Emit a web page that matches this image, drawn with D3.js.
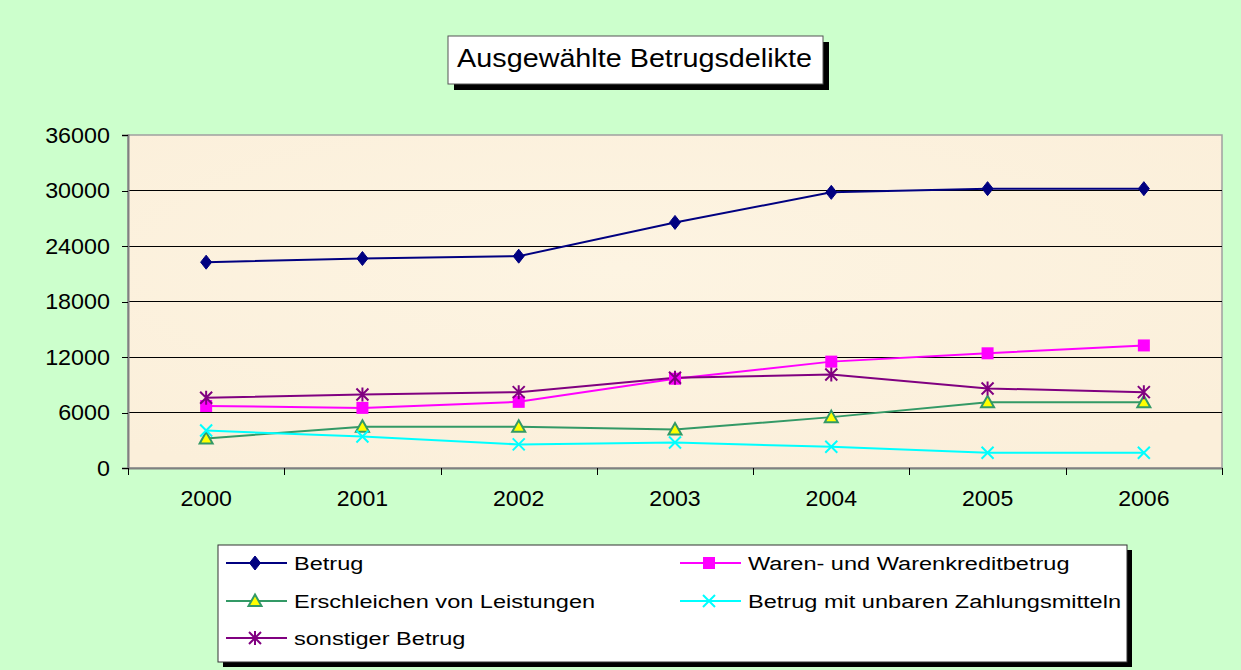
<!DOCTYPE html>
<html>
<head>
<meta charset="utf-8">
<script src="https://cdn.jsdelivr.net/npm/d3@7"></script>
<style>
  body { margin: 0; background: #ccffcc; }
  text { font-family: "Liberation Sans", Arial, sans-serif; fill: #000; }
</style>
</head>
<body>
<div id="chart"></div>
<script>
const years = ["2000", "2001", "2002", "2003", "2004", "2005", "2006"];
const yTicks = [0, 6000, 12000, 18000, 24000, 30000, 36000];

const betrug = [22250, 22650, 22900, 26550, 29800, 30200, 30200];
const waren = [6700, 6500, 7150, 9650, 11500, 12400, 13250];
const erschleichen = [3200, 4450, 4450, 4150, 5500, 7100, 7100];
const unbar = [4050, 3400, 2550, 2750, 2300, 1650, 1650];
const sonstiger = [7600, 7950, 8200, 9750, 10100, 8600, 8200];

const seriesNames = ["Betrug", "Waren- und Warenkreditbetrug", "Erschleichen von Leistungen",
  "Betrug mit unbaren Zahlungsmitteln", "sonstiger Betrug"];

const width = 1241;
const height = 670;
const plotLeft = 128, plotRight = 1222, plotTop = 135, plotBottom = 468;

const series = [
  { name: seriesNames[0], values: betrug, color: "#000080", marker: "diamond" },
  { name: seriesNames[1], values: waren, color: "#ff00ff", marker: "square" },
  { name: seriesNames[2], values: erschleichen, color: "#339966", marker: "triangle" },
  { name: seriesNames[3], values: unbar, color: "#00ffff", marker: "cross" },
  { name: seriesNames[4], values: sonstiger, color: "#800080", marker: "star" }
];

const svg = d3.select('#chart')
  .append('svg')
  .attr('width', width)
  .attr('height', height)

const defs = svg.append('defs');
const grad = defs.append('radialGradient').attr('id', 'parch')
  .attr('cx', '45%').attr('cy', '40%').attr('r', '70%');
grad.append('stop').attr('offset', '0%').attr('stop-color', '#fdf4e2');
grad.append('stop').attr('offset', '100%').attr('stop-color', '#fbefda');

// plot area
svg.append('rect')
  .attr('x', plotLeft).attr('y', plotTop)
  .attr('width', plotRight - plotLeft).attr('height', plotBottom - plotTop)
  .attr('fill', 'url(#parch)')
  .attr('stroke', '#a0a0a0')
  .attr('stroke-width', 1.5)

const x = d3.scaleBand().domain(years).range([plotLeft, plotRight]).padding(0);
const xEdge = d3.scaleLinear().domain([0, years.length]).range([plotLeft, plotRight]);
const y = d3.scaleLinear().domain([0, 36000]).range([plotBottom, plotTop]);

// gridlines
svg.append('g')
  .selectAll('line')
  .data(yTicks.filter(d => d > 0 && d < 36000))
  .join('line')
  .attr('x1', plotLeft).attr('x2', plotRight)
  .attr('y1', d => y(d)).attr('y2', d => y(d))
  .attr('stroke', '#000').attr('stroke-width', 1)
  .attr('shape-rendering', 'crispEdges')

const yAxis = d3.axisLeft(y).tickValues(yTicks).tickFormat(d3.format("d")).tickSize(6).tickPadding(11);
const gy = svg.append('g')
  .attr('transform', `translate(${plotLeft}, 0)`)
  .call(yAxis)
gy.select('.domain').attr('stroke', '#808080').attr('stroke-width', 2)
gy.selectAll('.tick line').attr('stroke', '#000').attr('shape-rendering', 'crispEdges')
gy.selectAll('text').style('font-size', '22px').attr('font-family', null)
  .attr('transform', 'scale(1.06,1)')

const xTickAxis = d3.axisBottom(xEdge).tickValues(d3.range(years.length + 1)).tickFormat("").tickSize(7).tickSizeOuter(0);
const gxt = svg.append('g')
  .attr('transform', `translate(0, ${plotBottom})`)
  .call(xTickAxis)
gxt.select('.domain').attr('stroke', '#808080').attr('stroke-width', 2)
gxt.selectAll('.tick line').attr('stroke', '#000').attr('shape-rendering', 'crispEdges')

const xAxis = d3.axisBottom(x).tickSize(0).tickPadding(22);
const gx = svg.append('g')
  .attr('transform', `translate(0, ${plotBottom})`)
  .call(xAxis)
gx.select('.domain').remove()
gx.selectAll('text').style('font-size', '22px').attr('font-family', null)
  .attr('transform', 'scale(1.05,1)')

function drawMarker(g, type, color, cx, cy) {
  if (type === "diamond") {
    g.append('path').attr('d', `M${cx},${cy - 7}L${cx + 5.5},${cy}L${cx},${cy + 7}L${cx - 5.5},${cy}Z`)
      .attr('fill', color).attr('stroke', color).attr('stroke-width', 1)
  } else if (type === "square") {
    g.append('rect').attr('x', cx - 6).attr('y', cy - 6).attr('width', 12).attr('height', 12)
      .attr('fill', color)
  } else if (type === "triangle") {
    g.append('path').attr('d', `M${cx},${cy - 6.5}L${cx + 6.5},${cy + 5}L${cx - 6.5},${cy + 5}Z`)
      .attr('fill', '#ffff00').attr('stroke', color).attr('stroke-width', 2)
  } else if (type === "cross") {
    g.append('path').attr('d', `M${cx - 6},${cy - 6}L${cx + 6},${cy + 6}M${cx - 6},${cy + 6}L${cx + 6},${cy - 6}`)
      .attr('stroke', color).attr('stroke-width', 2)
  } else if (type === "star") {
    g.append('path').attr('d', `M${cx - 6},${cy - 6}L${cx + 6},${cy + 6}M${cx - 6},${cy + 6}L${cx + 6},${cy - 6}M${cx},${cy - 7}L${cx},${cy + 7}`)
      .attr('stroke', color).attr('stroke-width', 2)
  }
}

const line = d3.line()
  .x((d, i) => x(years[i]) + x.bandwidth() / 2)
  .y(d => y(d))

const plot = svg.append('g');
series.forEach(s => {
  plot.append('path')
    .datum(s.values)
    .attr('d', line)
    .attr('fill', 'none')
    .attr('stroke', s.color)
    .attr('stroke-width', 2)
});
series.forEach(s => {
  const g = plot.append('g');
  s.values.forEach((v, i) => drawMarker(g, s.marker, s.color, x(years[i]) + x.bandwidth() / 2, y(v)));
});

// title
const tX = 448, tY = 36, tW = 375, tH = 48;
svg.append('rect').attr('x', tX + 6).attr('y', tY + 6).attr('width', tW).attr('height', tH).attr('fill', '#000')
svg.append('rect').attr('x', tX).attr('y', tY).attr('width', tW).attr('height', tH)
  .attr('fill', '#fff').attr('stroke', '#555').attr('stroke-width', 1)
svg.append('text')
  .attr('transform', `translate(${tX + tW / 2 - 1}, ${tY + 31}) scale(1.15,1)`)
  .attr('text-anchor', 'middle')
  .style('font-size', '25px')
  .text("Ausgewählte Betrugsdelikte")

// legend
const lX = 218, lY = 545, lW = 909, lH = 117;
svg.append('rect').attr('x', lX + 5).attr('y', lY + 5).attr('width', lW).attr('height', lH).attr('fill', '#000')
svg.append('rect').attr('x', lX).attr('y', lY).attr('width', lW).attr('height', lH)
  .attr('fill', '#fff').attr('stroke', '#333').attr('stroke-width', 1)

const colX = [226, 680];
const rowY = [563, 601, 638];
series.forEach((s, i) => {
  const cx0 = colX[i % 2];
  const cy0 = rowY[Math.floor(i / 2)];
  const g = svg.append('g');
  g.append('line').attr('x1', cx0).attr('x2', cx0 + 61).attr('y1', cy0).attr('y2', cy0)
    .attr('stroke', s.color).attr('stroke-width', 2)
  drawMarker(g, s.marker, s.color, cx0 + 29, cy0);
  g.append('text')
    .attr('transform', `translate(${cx0 + 68}, ${cy0 + 7}) scale(1.24,1)`)
    .style('font-size', '19px')
    .text(s.name)
});
</script>
</body>
</html>
